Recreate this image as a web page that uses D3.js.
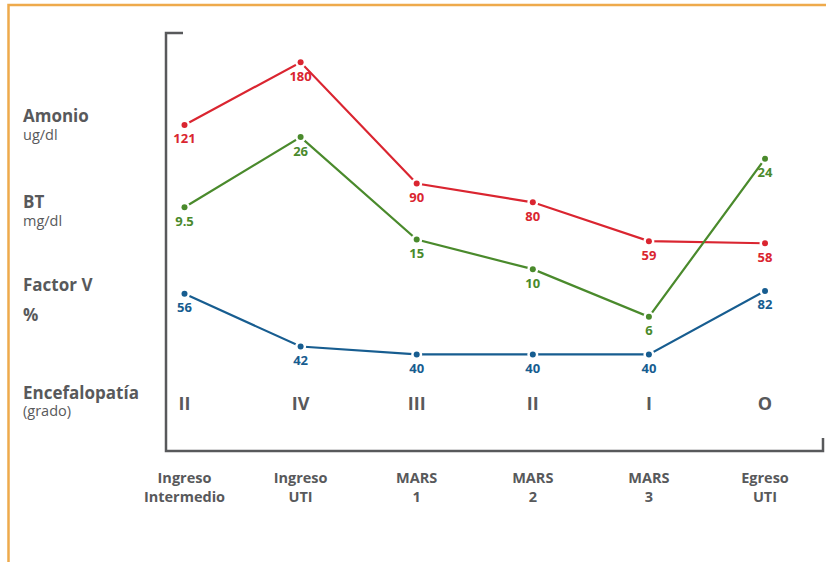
<!DOCTYPE html>
<html>
<head>
<meta charset="utf-8">
<script src="https://cdn.jsdelivr.net/npm/d3@7"></script>
<style>
  body { margin: 0; background: #fff; }
  text { font-family: "Open Sans", "Noto Sans", sans-serif; }
</style>
</head>
<body>
<script>
/*
*    chart: evolución MARS
*/

var width = 826;
var height = 562;

// stages along the x axis (two lines each)
var stages = ["Ingreso|Intermedio", "Ingreso|UTI", "MARS|1", "MARS|2", "MARS|3", "Egreso|UTI"];
var grades = ["II", "IV", "III", "II", "I", "O"];

// values printed next to each point
var amonio = [121, 180, 90, 80, 59, 58];
var bt = [9.5, 26, 15, 10, 6, 24];
var factorV = [56, 42, 40, 40, 40, 82];

// plotted height of each point (chart is not to scale), read on a 0-100 level
var amonioLevel = [78, 93, 64, 59.5, 50.2, 49.7];
var btLevel = [58.3, 75.1, 50.6, 43.5, 32.1, 69.9];
var factorVLevel = [37.6, 25, 23.1, 23.1, 23.1, 38.3];

var series = [
    {name: "amonio", values: amonio, levels: amonioLevel, color: "#da2530"},
    {name: "bt", values: bt, levels: btLevel, color: "#4a8a2c"},
    {name: "factorV", values: factorV, levels: factorVLevel, color: "#175d90"}
];

var frame = {left: 166, right: 823, top: 33, bottom: 451};
var gray = "#58595b";

//Scales
var x = d3.scalePoint()
    .domain(stages)
    .range([184.5, 765]);

var y = d3.scaleLinear()
    .domain([0, 100])
    .range([frame.bottom, frame.top]);

//Canvas
var svg = d3.select("body")
    .append("svg")
        .attr("width", width)
        .attr("height", height);

// orange border (top and left)
svg.append("path")
    .attr("d", "M" + 8.5 + "," + height + "V" + 5 + "H" + width)
    .attr("fill", "none")
    .attr("stroke", "#eeaa4c")
    .attr("stroke-width", 2.5);

// axis frame
svg.append("path")
    .attr("d", "M" + (frame.left + 17) + "," + frame.top + "H" + frame.left + "V" + frame.bottom
        + "H" + frame.right + "V" + (frame.bottom - 13))
    .attr("fill", "none")
    .attr("stroke", gray)
    .attr("stroke-width", 2.5);

// left labels
var leftLabels = [
    {t: "Amonio", y: 122, bold: true},
    {t: "ug/dl", y: 140, bold: false},
    {t: "BT", y: 208, bold: true},
    {t: "mg/dl", y: 226, bold: false},
    {t: "Factor V", y: 291, bold: true},
    {t: "%", y: 321, bold: true},
    {t: "Encefalopatía", y: 399, bold: true},
    {t: "(grado)", y: 416, bold: false}
];
svg.selectAll(".left-label")
    .data(leftLabels)
    .enter()
    .append("text")
        .attr("class", "left-label")
        .attr("x", 23)
        .attr("y", d => d.y)
        .attr("fill", gray)
        .attr("font-size", d => d.bold ? 17 : 14.5)
        .attr("font-weight", d => d.bold ? 700 : 400)
        .text(d => d.t);

// grades row
svg.selectAll(".grade")
    .data(grades)
    .enter()
    .append("text")
        .attr("class", "grade")
        .attr("x", (d, i) => x(stages[i]))
        .attr("y", 410)
        .attr("text-anchor", "middle")
        .attr("fill", gray)
        .attr("font-size", 18)
        .attr("font-weight", 700)
        .text(d => d);

// category labels under the axis
var cats = svg.selectAll(".cat")
    .data(stages)
    .enter()
    .append("text")
        .attr("class", "cat")
        .attr("text-anchor", "middle")
        .attr("fill", gray)
        .attr("font-size", 14.5)
        .attr("font-weight", 700);
cats.selectAll("tspan")
    .data(d => d.split("|").map(t => ({t: t, c: d})))
    .enter()
    .append("tspan")
        .attr("x", d => x(d.c))
        .attr("y", (d, i) => 483 + i * 19)
        .text(d => d.t);

// lines
var line = d3.line()
    .x((d, i) => x(stages[i]))
    .y(d => y(d));

var groups = svg.selectAll(".series")
    .data(series)
    .enter()
    .append("g")
        .attr("class", "series");

groups.append("path")
    .attr("d", d => line(d.levels))
    .attr("fill", "none")
    .attr("stroke", d => d.color)
    .attr("stroke-width", 2.2);

groups.selectAll("circle")
    .data(d => d.levels.map((l, i) => ({l: l, i: i, color: d.color})))
    .enter()
    .append("circle")
        .attr("cx", d => x(stages[d.i]))
        .attr("cy", d => y(d.l))
        .attr("r", 3)
        .attr("fill", d => d.color)
        .attr("stroke", "#fff")
        .attr("stroke-width", 5)
        .attr("paint-order", "stroke");

groups.selectAll(".val")
    .data(d => d.values.map((v, i) => ({v: v, l: d.levels[i], i: i, color: d.color})))
    .enter()
    .append("text")
        .attr("class", "val")
        .attr("x", d => x(stages[d.i]))
        .attr("y", d => y(d.l) + 18.5)
        .attr("text-anchor", "middle")
        .attr("fill", d => d.color)
        .attr("font-size", 13)
        .attr("font-weight", 700)
        .text(d => d.v);
</script>
</body>
</html>
